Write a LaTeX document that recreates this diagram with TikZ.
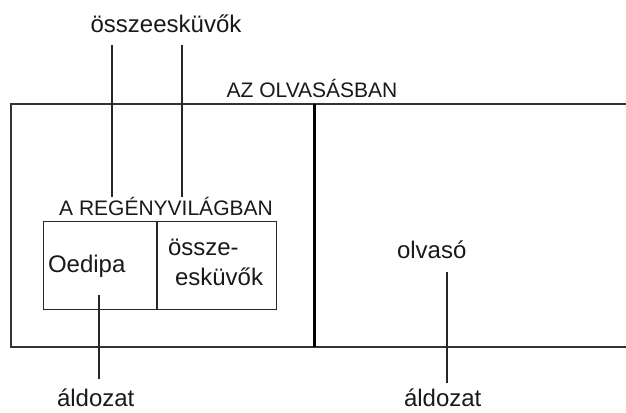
\documentclass[tikz,border=0pt]{standalone}
\usepackage{fontspec}
\setmainfont{Liberation Sans}
\begin{document}
\begin{tikzpicture}[x=1pt,y=-1pt,
  lbl/.style={inner sep=0pt,outer sep=0pt,font=\fontsize{24}{28}\selectfont,text=black!90},
  captxt/.style={inner sep=0pt,outer sep=0pt,font=\fontsize{21}{25}\selectfont,text=black!90},
  ln/.style={line width=1.4pt,draw=black!85},
  frame/.style={line width=1.8pt,draw=black!80},
  divider/.style={line width=3pt,draw=black}]
\useasboundingbox (0,0) rectangle (626,412);
% outer region
\draw[frame] (626,104) -- (11,104) -- (11,347) -- (626,347);
\draw[divider] (314,104) -- (314,347);
% inner box
\node[draw=black!85,line width=1.4pt,minimum width=233pt,minimum height=88pt,inner sep=0pt,anchor=north west] (world) at (43,221) {};
\draw[ln] (157,221) -- (157,309);
% texts
\node[captxt,anchor=base] (olv) at (312,97) {AZ OLVASÁSBAN};
\node[captxt,anchor=base] (reg) at (166,215) {A REGÉNYVILÁGBAN};
\node[lbl,anchor=base] (topc) at (166,33) {összeesküvők};
\node[lbl,anchor=base west] (oed) at (48,272) {Oedipa};
\node[lbl,anchor=base west] (ossze) at (168,255) {össze-};
\node[lbl,anchor=base west] (esk) at (175,285) {esküvők};
\node[lbl,anchor=base west] (reader) at (397,258) {olvasó};
\node[lbl,anchor=base west] (ald1) at (57,406) {áldozat};
\node[lbl,anchor=base west] (ald2) at (404,406) {áldozat};
% connectors
\coordinate (c1a) at (112,45); \coordinate (c1b) at (112,197);
\coordinate (c2a) at (182,45); \coordinate (c2b) at (182,197);
\coordinate (o1) at (99,295); \coordinate (o2) at (99,379);
\coordinate (r1) at (447,272); \coordinate (r2) at (447,383);
\draw[ln] (c1a) -- (c1b);
\draw[ln] (c2a) -- (c2b);
\draw[ln] (o1) -- (o2);
\draw[ln] (r1) -- (r2);
\end{tikzpicture}
\end{document}
